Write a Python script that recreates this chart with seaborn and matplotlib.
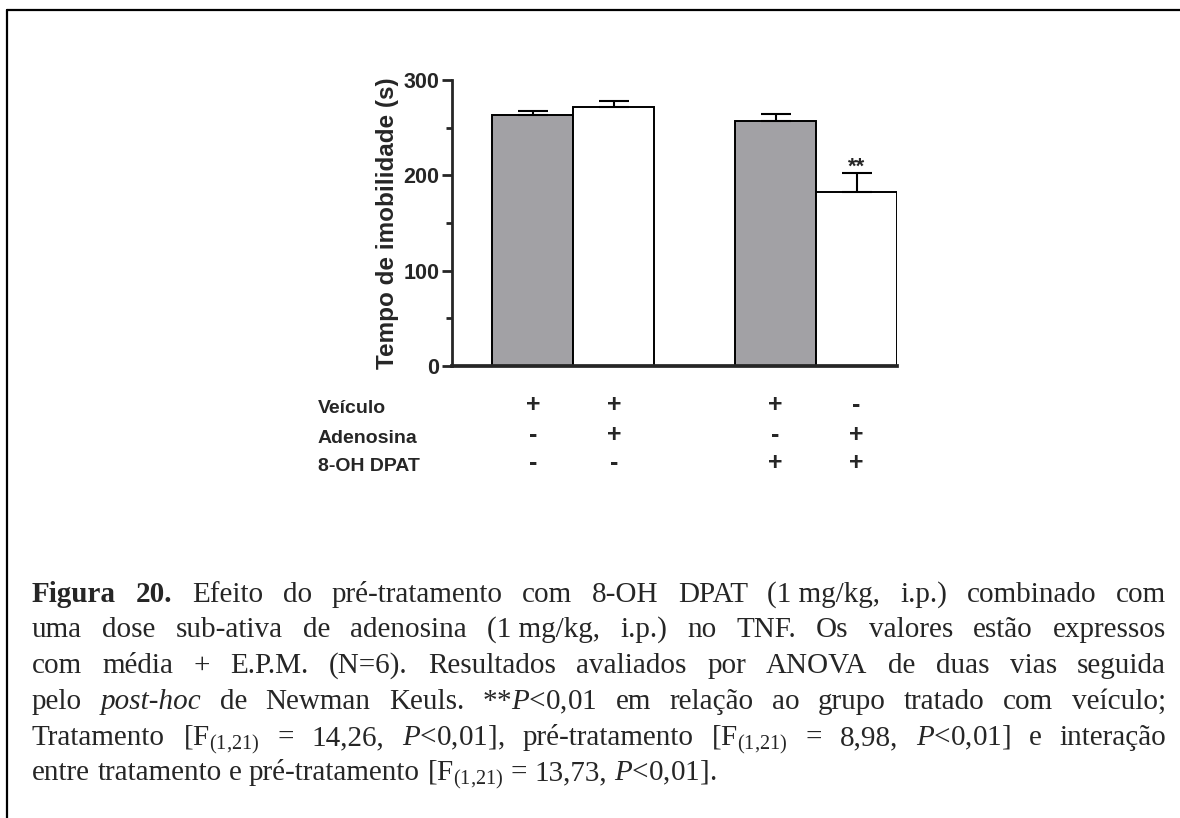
import matplotlib
matplotlib.use("Agg")
import matplotlib.pyplot as plt
from matplotlib.lines import Line2D
from matplotlib.ticker import FixedLocator
import matplotlib.transforms as mtransforms
import seaborn as sns
import pandas as pd

# ---- data -------------------------------------------------------------
groups = ["veic", "aden", "dpat", "dpat_aden"]
means = [263, 272, 257, 183]
sem = [5, 6, 7, 19]
bar_colors = ["#a2a1a5", "#ffffff", "#a2a1a5", "#ffffff"]

row_labels = ["Veículo", "Adenosina", "8-OH DPAT"]
veiculo_signs = ["+", "+", "+", "-"]
adenosina_signs = ["-", "+", "-", "+"]
dpat_signs = ["-", "-", "+", "+"]
signif = ["", "", "", "**"]

ylabel = "Tempo de imobilidade (s)"
yticks = [0, 100, 200, 300]

caption_lines = [
    ["Figura|b", "20.|b", "Efeito", "do", "pré-tratamento", "com", "8-OH", "DPAT",
     "(1 mg/kg,", "i.p.)", "combinado", "com"],
    ["uma", "dose", "sub-ativa", "de", "adenosina", "(1 mg/kg,", "i.p.)", "no",
     "TNF.", "Os", "valores", "estão", "expressos"],
    ["com", "média", "+", "E.P.M.", "(N=6).", "Resultados", "avaliados", "por",
     "ANOVA", "de", "duas", "vias", "seguida"],
    ["pelo", "post-hoc|i", "de", "Newman", "Keuls.", r"**$\mathit{P}$<0,01", "em",
     "relação", "ao", "grupo", "tratado", "com", "veículo;"],
    ["Tratamento", r"[F$_{(1{,}21)}$", "=", "14,26,", r"$\mathit{P}$<0,01],",
     "pré-tratamento", r"[F$_{(1{,}21)}$", "=", "8,98,", r"$\mathit{P}$<0,01]", "e",
     "interação"],
    ["entre", "tratamento", "e", "pré-tratamento", r"[F$_{(1{,}21)}$", "=", "13,73,",
     r"$\mathit{P}$<0,01]."],
]

# ---- style ------------------------------------------------------------
sns.set_style("ticks")
plt.rcParams["font.family"] = ["Liberation Sans", "DejaVu Sans"]
plt.rcParams["mathtext.fontset"] = "custom"
plt.rcParams["mathtext.rm"] = "Liberation Serif"
plt.rcParams["mathtext.it"] = "Liberation Serif:italic"
plt.rcParams["mathtext.bf"] = "Liberation Serif:bold"

W, H = 1180, 818
fig = plt.figure(figsize=(W / 100, H / 100), dpi=100)
fig.patch.set_facecolor("white")

def fx(px):
    return px / W

def fy(py):
    return 1 - py / H

ax = fig.add_axes([fx(452), fy(366), fx(897) - fx(452), (366 - 80) / H])

# ---- bars -------------------------------------------------------------
df = pd.DataFrame({"grupo": groups, "tempo": means})
order = groups[:2] + [""] + groups[2:]
palette = dict(zip(groups, bar_colors))
sns.barplot(data=df, x="grupo", y="tempo", hue="grupo", order=order,
            palette=palette, dodge=False, width=1.0, legend=False,
            edgecolor="black", linewidth=1.4, errorbar=None, ax=ax,
            saturation=1)

xpos = [order.index(g) for g in groups]
ax.errorbar(xpos, means, yerr=[[0] * len(sem), sem], fmt="none",
            ecolor="black", elinewidth=1.5, capsize=10.8, capthick=1.5,
            zorder=1)
for x, m, s, t in zip(xpos, means, sem, signif):
    if t:
        ax.text(x, m + s - 4, t, ha="center", va="bottom", fontsize=16,
                fontweight="bold")

# ---- axes -------------------------------------------------------------
ax.set_xlim(-1, 4.5)
ax.set_ylim(0, 300)
ax.set_yticks(yticks)
ax.yaxis.set_minor_locator(FixedLocator([50, 150, 250]))
ax.set_yticklabels([str(v) for v in yticks], fontsize=15.5, fontweight="bold")
ax.tick_params(axis="y", which="major", direction="out", length=7, width=2, pad=2)
ax.tick_params(axis="y", which="minor", direction="out", length=4, width=2)
ax.tick_params(axis="x", bottom=False, labelbottom=False)
ax.set_xlabel("")
ax.set_ylabel(ylabel, fontsize=17.5, fontweight="bold")
ax.yaxis.set_label_coords(-0.118, 0.5)
for side in ("top", "right"):
    ax.spines[side].set_visible(False)
ax.spines["left"].set_linewidth(2)
ax.spines["bottom"].set_linewidth(2.7)
ax.set_facecolor("white")

# ---- treatment table below the bars -----------------------------------
trans = mtransforms.blended_transform_factory(ax.transData, fig.transFigure)
row_baselines = [413, 443, 471]
for label, signs, base in zip(row_labels,
                              [veiculo_signs, adenosina_signs, dpat_signs],
                              row_baselines):
    fig.text(fx(318), fy(base), label, ha="left", va="baseline",
             fontsize=14, fontweight="bold")
    for x, s in zip(xpos, signs):
        fig.text(x, fy(base - 1), s, transform=trans, ha="center",
                 va="baseline", fontsize=18, fontweight="bold")

# ---- justified caption ------------------------------------------------
cap_left, cap_right = 32, 1166
cap_baselines = [602, 637, 673, 709, 745, 780]
cap_size = 21
renderer = fig.canvas.get_renderer()

def make_word(token):
    weight, style = "normal", "normal"
    if token.endswith("|b"):
        token, weight = token[:-2], "bold"
    elif token.endswith("|i"):
        token, style = token[:-2], "italic"
    return fig.text(0, 0, token, fontsize=cap_size, family="Liberation Serif",
                    fontweight=weight, fontstyle=style, ha="left", va="baseline")

space_t = fig.text(0, 0, "a a", fontsize=cap_size, family="Liberation Serif")
aa_t = fig.text(0, 0, "aa", fontsize=cap_size, family="Liberation Serif")
space_w = (space_t.get_window_extent(renderer).width
           - aa_t.get_window_extent(renderer).width)
space_t.remove()
aa_t.remove()

for i, (words, base) in enumerate(zip(caption_lines, cap_baselines)):
    texts = [make_word(w) for w in words]
    widths = [t.get_window_extent(renderer).width for t in texts]
    if i < len(caption_lines) - 1:
        gap = (cap_right - cap_left - sum(widths)) / (len(words) - 1)
    else:
        gap = space_w
    x = cap_left
    for t, w in zip(texts, widths):
        t.set_position((fx(x), fy(base)))
        x += w + gap

# ---- frame lines ------------------------------------------------------
fig.add_artist(Line2D([fx(7), fx(7)], [fy(9.5), 0], color="black", lw=1.6,
                      transform=fig.transFigure))
fig.add_artist(Line2D([fx(7), 1], [fy(9.5), fy(9.5)], color="black", lw=1.6,
                      transform=fig.transFigure))

fig.savefig("out.png", dpi=100, facecolor="white")
